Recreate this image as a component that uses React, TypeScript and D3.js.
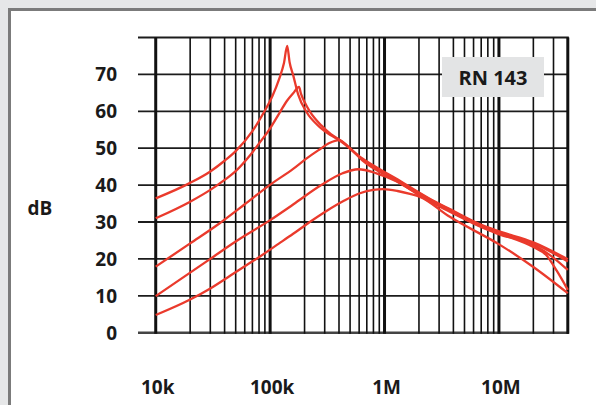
import React, { useEffect, useRef } from 'react'
import * as d3 from 'd3'

// axis values
const dbGrid = [0, 10, 20, 30, 40, 50, 60, 70, 80]
const dbLabels = [0, 10, 20, 30, 40, 50, 60, 70]
const decades = [1e4, 1e5, 1e6, 1e7]
const decadeLabels = ['10k', '100k', '1M', '10M']
const gridSteps = [1, 2, 3, 4, 5, 6, 7, 8, 9]
const freqMax = 4e7

// curves as [frequency Hz, dB]
const curveA = [
  [1e4, 36.4], [2e4, 40.6], [3e4, 43.7], [4e4, 46.6], [5e4, 49.2], [7e4, 54.6],
  [8.7e4, 59.4], [1.05e5, 64.2], [1.2e5, 68.8], [1.32e5, 73], [1.41e5, 77.7],
  [1.48e5, 73.3], [1.59e5, 69.8], [1.76e5, 64.5], [2.08e5, 59.8], [2.7e5, 55.8],
  [3.4e5, 53.5], [4e5, 52.2], [6.4e5, 47.2], [1.26e6, 41.8], [2.46e6, 36.4],
  [3.72e6, 33.5], [7.3e6, 29], [1.02e7, 27.4], [2e7, 24.5], [4e7, 19.9],
]
const curveB = [
  [1e4, 31], [2e4, 35.5], [3e4, 38.7], [4e4, 41.4], [5e4, 43.8], [6.6e4, 47.9],
  [8.1e4, 51.5], [1e5, 55.4], [1.22e5, 59.8], [1.4e5, 62.8], [1.59e5, 64.9], [1.79e5, 66.6],
  [1.86e5, 64.8], [2e5, 62.5], [2.22e5, 60], [2.8e5, 56.2], [3.4e5, 53.8],
  [4e5, 52.4], [6.4e5, 47], [1.26e6, 41.5], [2.46e6, 36.2], [3.72e6, 33.3],
  [7.3e6, 28.8], [1.02e7, 27.1], [2e7, 23.8], [3e7, 20.3], [4e7, 17],
]
const curveC = [
  [1e4, 17.9], [2e4, 24.2], [3.6e4, 29.6], [6e4, 34.8], [9.9e4, 40], [1.59e5, 44.4],
  [2.1e5, 47.3], [2.63e5, 49.4], [3.3e5, 51.4], [4e5, 52.2], [4.8e5, 50.5],
  [6.4e5, 46.7], [1.26e6, 41.2], [2.46e6, 35.8], [3.72e6, 33], [7.3e6, 28.5],
  [1.02e7, 26.8], [2e7, 23.2], [2.6e7, 21], [3.2e7, 16.8], [4e7, 11.6],
]
const curveD = [
  [1e4, 9.9], [3e4, 20], [5e4, 24.7], [1e5, 30.5], [1.6e5, 34.8],
  [2.8e5, 40], [4.3e5, 43.2], [5.9e5, 44.3], [8.5e5, 43.2], [1.28e6, 41],
  [2.46e6, 35.6], [3.72e6, 32.8], [7.3e6, 28.4], [1.02e7, 26.6], [2e7, 24.2], [4e7, 19.3],
]
const curveE = [
  [1e4, 4.8], [2e4, 9], [3e4, 12], [4.5e4, 15.5], [6.2e4, 18.3], [8.1e4, 20.6],
  [1.2e5, 24.2], [1.59e5, 26.8], [2.22e5, 30], [3.11e5, 33], [4.5e5, 35.9],
  [6.1e5, 37.8], [8e5, 38.7], [9.7e5, 38.9], [1.3e6, 38.4], [1.67e6, 37.6],
  [2.04e6, 36.8], [3.72e6, 31.4], [1.02e7, 23.8], [2e7, 17.8], [4e7, 10.7],
]
const curves = [curveA, curveB, curveC, curveD, curveE]

function App() {
  const chart = useRef<SVGSVGElement>(null)

  useEffect(() => {
    const w = 596
    const h = 405
    const font = "'Open Sans', 'Noto Sans', sans-serif"

    const svg = d3.select(chart.current)
    svg.selectAll('*').remove()

    const x = d3.scaleLog().domain([7e3, freqMax]).range([138, 567.8])
    const y = d3.scaleLinear().domain([0, 80]).range([332.7, 37.5])

    // background + panel
    svg.append('rect').attr('width', w).attr('height', h).attr('fill', '#e6e7e8')
    svg.append('rect')
      .attr('x', 9.5).attr('y', 9.5)
      .attr('width', w + 20).attr('height', h + 20)
      .attr('fill', '#ffffff')
      .attr('stroke', '#7b7b7b')
      .attr('stroke-width', 3)

    // horizontal grid
    svg.append('g')
      .selectAll('line')
      .data(dbGrid)
      .join('line')
      .attr('x1', x(7e3)).attr('x2', x(freqMax) + 1)
      .attr('y1', d => y(d)).attr('y2', d => y(d))
      .attr('stroke', d => (d === 0 ? '#444' : '#1c1c1c'))
      .attr('stroke-width', d => (d === 0 ? 2.4 : 1.8))

    // vertical grid
    const freqs: { f: number; major: boolean }[] = []
    decades.forEach(dec => gridSteps.forEach(s => freqs.push({ f: dec * s, major: s === 1 })))
    freqs.push({ f: freqMax, major: true })
    svg.append('g')
      .selectAll('line')
      .data(freqs.filter(d => d.f <= freqMax))
      .join('line')
      .attr('x1', d => x(d.f)).attr('x2', d => x(d.f))
      .attr('y1', y(80)).attr('y2', y(0) + 1)
      .attr('stroke', '#111')
      .attr('stroke-width', d => (d.major ? 3 : 1.6))

    // type box
    svg.append('rect')
      .attr('x', 442).attr('y', 57)
      .attr('width', 102).attr('height', 40)
      .attr('fill', '#e3e4e5')
    svg.append('text')
      .text('RN 143')
      .attr('x', 493).attr('y', 84.5)
      .attr('text-anchor', 'middle')
      .attr('font-family', font)
      .attr('font-weight', 'bold')
      .attr('font-size', 20)
      .attr('fill', '#1a1a1a')

    // curves
    const line = d3.line<number[]>()
      .x(d => x(d[0]))
      .y(d => y(d[1]))
      .curve(d3.curveMonotoneX)

    svg.append('g')
      .selectAll('path')
      .data(curves)
      .join('path')
      .attr('d', d => line(d))
      .attr('fill', 'none')
      .attr('stroke', '#ea3a2c')
      .attr('stroke-width', 2.3)

    // y labels
    svg.append('g')
      .selectAll('text')
      .data(dbLabels)
      .join('text')
      .text(d => d)
      .attr('x', 117)
      .attr('y', d => y(d) + 7)
      .attr('text-anchor', 'end')
      .attr('font-family', font)
      .attr('font-weight', 'bold')
      .attr('font-size', 19)
      .attr('fill', '#1a1a1a')

    svg.append('text')
      .text('dB')
      .attr('x', 40).attr('y', 215)
      .attr('text-anchor', 'middle')
      .attr('font-family', font)
      .attr('font-weight', 'bold')
      .attr('font-size', 19)
      .attr('fill', '#1a1a1a')

    // x labels
    svg.append('g')
      .selectAll('text')
      .data(decades)
      .join('text')
      .text((d, i) => decadeLabels[i])
      .attr('x', d => x(d) + 2)
      .attr('y', 394)
      .attr('text-anchor', 'middle')
      .attr('font-family', font)
      .attr('font-weight', 'bold')
      .attr('font-size', 19)
      .attr('fill', '#1a1a1a')
  })

  return (
    <div style={{ position: 'absolute', left: 0, top: 0 }}>
      <svg ref={chart} width={596} height={405} style={{ display: 'block' }}></svg>
    </div>
  )
}

export default App
